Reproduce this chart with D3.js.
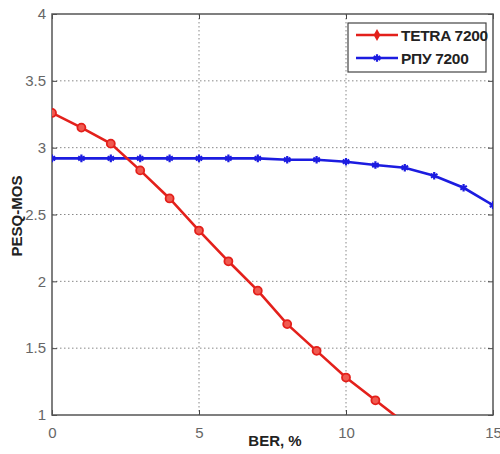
<!DOCTYPE html>
<html>
<head>
<meta charset="utf-8">
<script src="https://cdn.jsdelivr.net/npm/d3@7"></script>
<style>
body { margin: 0; background: #fff; }
.tick text { font-family: "Liberation Sans", Arial, sans-serif; font-size: 15px; fill: #666; }
.grid line { stroke: #888; stroke-dasharray: 1.5,2.5; }
</style>
</head>
<body>
<div id="chart"></div>
<script>
var wt = 500;
var ht = 454;
var margin = {top: 14, right: 7, bottom: 39, left: 52};
var width = wt - margin.left - margin.right;
var height = ht - margin.top - margin.bottom;

// data
var berTetra = [0, 1, 2, 3, 4, 5, 6, 7, 8, 9, 10, 11, 12];
var mosTetra = [3.26, 3.15, 3.03, 2.83, 2.62, 2.38, 2.15, 1.93, 1.68, 1.48, 1.28, 1.11, 0.94];
var berRpu = [0, 1, 2, 3, 4, 5, 6, 7, 8, 9, 10, 11, 12, 13, 14, 15];
var mosRpu = [2.92, 2.92, 2.92, 2.92, 2.92, 2.92, 2.92, 2.92, 2.91, 2.91, 2.895, 2.87, 2.85, 2.79, 2.70, 2.57];
var xTicks = [0, 5, 10, 15];
var yTicks = [1, 1.5, 2, 2.5, 3, 3.5, 4];
var seriesNames = ["TETRA 7200", "РПУ 7200"];

var svg = d3.select("#chart").append("svg")
    .attr("width", wt)
    .attr("height", ht);
var g = svg.append("g")
    .attr("transform", "translate(" + margin.left + "," + margin.top + ")");

var x = d3.scaleLinear().domain([0, 15]).range([0, width]);
var y = d3.scaleLinear().domain([1, 4]).range([height, 0]);

// grid
g.append("g").attr("class", "grid")
    .selectAll("line").data(xTicks.slice(1, -1)).enter().append("line")
    .attr("x1", function (d) { return x(d); }).attr("x2", function (d) { return x(d); })
    .attr("y1", 0).attr("y2", height);
g.append("g").attr("class", "grid")
    .selectAll("line").data(yTicks.slice(1, -1)).enter().append("line")
    .attr("y1", function (d) { return y(d); }).attr("y2", function (d) { return y(d); })
    .attr("x1", 0).attr("x2", width);

// axes
var fmt = function (d) { return String(d); };
g.append("g").attr("class", "axis")
    .attr("transform", "translate(0," + height + ")")
    .call(d3.axisBottom(x).tickValues(xTicks).tickFormat(fmt).tickSizeInner(-5).tickSizeOuter(0).tickPadding(12));
g.append("g").attr("class", "axis")
    .call(d3.axisLeft(y).tickValues(yTicks).tickFormat(fmt).tickSizeInner(-5).tickSizeOuter(0).tickPadding(6));
g.append("g").attr("transform", "translate(" + width + ",0)")
    .call(d3.axisRight(y).tickValues(yTicks).tickFormat("").tickSizeInner(-5).tickSizeOuter(0));
g.append("g")
    .call(d3.axisTop(x).tickValues(xTicks).tickFormat("").tickSizeInner(-5).tickSizeOuter(0));
g.selectAll(".domain").remove();
g.selectAll(".tick line").attr("stroke", "#444");

g.append("rect")
    .attr("width", width).attr("height", height)
    .attr("fill", "none").attr("stroke", "#555").attr("stroke-width", 1.5);

// clip
g.append("clipPath").attr("id", "clip")
    .append("rect").attr("width", width).attr("height", height);

var line = d3.line()
    .x(function (d) { return x(d[0]); })
    .y(function (d) { return y(d[1]); });

var tetra = berTetra.map(function (b, i) { return [b, mosTetra[i]]; });
var rpu = berRpu.map(function (b, i) { return [b, mosRpu[i]]; });

var plot = g.append("g").attr("clip-path", "url(#clip)");
var red = "#e3201b";
var blue = "#1c1ce0";

plot.append("path").datum(rpu)
    .attr("d", line).attr("fill", "none").attr("stroke", blue).attr("stroke-width", 2.6);
plot.append("path").datum(tetra)
    .attr("d", line).attr("fill", "none").attr("stroke", red).attr("stroke-width", 2.6);

var star = d3.symbol().type(d3.symbolAsterisk).size(40);
plot.selectAll(".mk-b").data(rpu).enter().append("path")
    .attr("transform", function (d) { return "translate(" + x(d[0]) + "," + y(d[1]) + ")"; })
    .attr("d", star).attr("stroke", blue).attr("stroke-width", 2.2).attr("fill", "none");
plot.selectAll(".mk-r").data(tetra).enter().append("circle")
    .attr("cx", function (d) { return x(d[0]); })
    .attr("cy", function (d) { return y(d[1]); })
    .attr("r", 4).attr("fill", "#f05a50").attr("stroke", red).attr("stroke-width", 1.8);

// axis labels
svg.append("text")
    .attr("x", 275).attr("y", 446)
    .attr("text-anchor", "middle")
    .style("font-family", "Liberation Sans, Arial, sans-serif")
    .style("font-weight", "bold").style("font-size", "15px").style("fill", "#222")
    .text("BER, %");
svg.append("text")
    .attr("transform", "translate(22,216) rotate(-90)")
    .attr("text-anchor", "middle")
    .style("font-family", "Liberation Sans, Arial, sans-serif")
    .style("font-weight", "bold").style("font-size", "15px").style("fill", "#222")
    .text("PESQ-MOS");

// legend
var lg = svg.append("g");
lg.append("rect")
    .attr("x", 348).attr("y", 23).attr("width", 138).attr("height", 49)
    .attr("fill", "#fff").attr("stroke", "#444").attr("stroke-width", 1.2);
var lgColors = [red, blue];
seriesNames.forEach(function (name, i) {
    var ly = 35 + i * 23;
    lg.append("line").attr("x1", 356).attr("x2", 398).attr("y1", ly).attr("y2", ly)
        .attr("stroke", lgColors[i]).attr("stroke-width", 2.6);
    if (i === 0) {
        lg.append("path").attr("transform", "translate(377," + ly + ")")
            .attr("d", d3.symbol().type(d3.symbolDiamond).size(40)).attr("fill", red);
    } else {
        lg.append("path").attr("transform", "translate(377," + ly + ")")
            .attr("d", star).attr("stroke", blue).attr("stroke-width", 2.2);
    }
    lg.append("text").attr("x", 401).attr("y", ly + 5.5)
        .style("font-family", "Liberation Sans, Arial, sans-serif")
        .style("font-size", "15.5px").style("font-weight", "bold")
        .style("letter-spacing", "-0.3px").style("fill", "#222")
        .text(name);
});
</script>
</body>
</html>
